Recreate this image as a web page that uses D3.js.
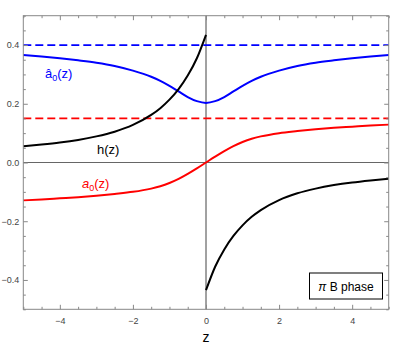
<!DOCTYPE html>
<html>
<head>
<meta charset="utf-8">
<script src="https://cdn.jsdelivr.net/npm/d3@7"></script>
<style>
  body { margin: 0; background: #fff; }
  svg text { font-family: 'Liberation Sans', Arial, sans-serif; }
</style>
</head>
<body>
<div class="canvas"></div>
<script>
// data
const zNeg = [-5, -4.5, -4, -3.5, -3, -2.5, -2, -1.5, -1.25, -1, -0.75, -0.5, -0.25, 0];
const zPos = [0, 0.25, 0.5, 0.75, 1, 1.25, 1.5, 2, 2.5, 3, 3.5, 4, 4.5, 5];
const zAll = [-5, -4.5, -4, -3.5, -3, -2.5, -2, -1.5, -1.25, -1, -0.75, -0.5, -0.25, 0,
  0.25, 0.5, 0.75, 1, 1.25, 1.5, 2, 2.5, 3, 3.5, 4, 4.5, 5];

const hLeft = [0.055, 0.061, 0.068, 0.077, 0.089, 0.105, 0.128, 0.162, 0.185, 0.214, 0.250, 0.296, 0.355, 0.435];
const hRight = [-0.435, -0.355, -0.296, -0.250, -0.214, -0.185, -0.162, -0.128, -0.105, -0.089, -0.077, -0.068, -0.061, -0.055];
const aHat = [0.366, 0.361, 0.355, 0.348, 0.340, 0.329, 0.313, 0.292, 0.278, 0.261, 0.242, 0.223, 0.209, 0.203,
  0.209, 0.223, 0.242, 0.261, 0.278, 0.292, 0.313, 0.329, 0.340, 0.348, 0.355, 0.361, 0.366];
const aZero = [-0.129, -0.126, -0.122, -0.118, -0.113, -0.107, -0.100, -0.089, -0.081, -0.070, -0.056, -0.039, -0.020, 0,
  0.020, 0.039, 0.056, 0.070, 0.081, 0.089, 0.100, 0.107, 0.113, 0.118, 0.122, 0.126, 0.129];
const aHatLimit = 0.4;
const aZeroLimit = 0.15;

const xMajor = [-4, -2, 0, 2, 4];
const yMajor = [-0.4, -0.2, 0.0, 0.2, 0.4];

const margin = { top: 15.7, right: 18.3, bottom: 39.7, left: 23.3 };
const width = 407, height = 349;
const graphWidth = width - margin.left - margin.right;
const graphHeight = height - margin.top - margin.bottom;

const svg = d3.select('.canvas').append('svg')
  .attr('width', width).attr('height', height);

const graph = svg.append('g')
  .attr('transform', `translate(${margin.left}, ${margin.top})`);

const x = d3.scaleLinear().domain([-5, 5]).range([0, graphWidth]);
const y = d3.scaleLinear().domain([-0.5, 0.5]).range([graphHeight, 0]);

// zero lines
graph.append('line')
  .attr('x1', 0).attr('x2', graphWidth)
  .attr('y1', y(0)).attr('y2', y(0))
  .attr('stroke', '#666').attr('stroke-width', 1);
graph.append('line')
  .attr('x1', x(0)).attr('x2', x(0))
  .attr('y1', 0).attr('y2', graphHeight)
  .attr('stroke', '#444').attr('stroke-width', 1);

// dashed limits
graph.append('line')
  .attr('x1', 0).attr('x2', graphWidth)
  .attr('y1', y(aHatLimit)).attr('y2', y(aHatLimit))
  .attr('stroke', '#0000ff').attr('stroke-width', 1.8)
  .attr('stroke-dasharray', '8,4');
graph.append('line')
  .attr('x1', 0).attr('x2', graphWidth)
  .attr('y1', y(aZeroLimit)).attr('y2', y(aZeroLimit))
  .attr('stroke', '#ff0000').attr('stroke-width', 1.8)
  .attr('stroke-dasharray', '8,4');

const line = d3.line()
  .x(d => x(d[0]))
  .y(d => y(d[1]))
  .curve(d3.curveMonotoneX);

const curves = [
  { data: d3.zip(zAll, aHat), color: '#0000ff' },
  { data: d3.zip(zAll, aZero), color: '#ff0000' },
  { data: d3.zip(zNeg, hLeft), color: '#000' },
  { data: d3.zip(zPos, hRight), color: '#000' }
];

graph.selectAll('path.curve')
  .data(curves)
  .enter()
  .append('path')
  .attr('class', 'curve')
  .attr('fill', 'none')
  .attr('stroke', d => d.color)
  .attr('stroke-width', 2)
  .attr('d', d => line(d.data));

// frame and ticks (inward, mirrored)
const tickColor = '#888';
const fmtY = d => d3.format('.1f')(d).replace('-', '\u2212');
const fmtX = d => String(d).replace('-', '\u2212');

const xMinor = d3.range(-5, 5.01, 0.5).filter(v => !xMajor.includes(v));
const yMinor = d3.range(-0.5, 0.501, 0.05).map(v => +v.toFixed(2)).filter(v => !yMajor.includes(v));

graph.append('g').attr('transform', `translate(0, ${graphHeight})`)
  .call(d3.axisBottom(x).tickValues(xMajor).tickSizeInner(-4.5).tickSizeOuter(0).tickPadding(8).tickFormat(fmtX));
graph.append('g').attr('transform', `translate(0, ${graphHeight})`)
  .call(d3.axisBottom(x).tickValues(xMinor).tickSizeInner(-2.5).tickSizeOuter(0).tickFormat(''));
graph.append('g')
  .call(d3.axisTop(x).tickValues(xMajor).tickSizeInner(-4.5).tickSizeOuter(0).tickFormat(''));
graph.append('g')
  .call(d3.axisTop(x).tickValues(xMinor).tickSizeInner(-2.5).tickSizeOuter(0).tickFormat(''));

graph.append('g')
  .call(d3.axisLeft(y).tickValues(yMajor).tickSizeInner(-4.5).tickSizeOuter(0).tickPadding(4).tickFormat(fmtY));
graph.append('g')
  .call(d3.axisLeft(y).tickValues(yMinor).tickSizeInner(-2.5).tickSizeOuter(0).tickFormat(''));
graph.append('g').attr('transform', `translate(${graphWidth}, 0)`)
  .call(d3.axisRight(y).tickValues(yMajor).tickSizeInner(-4.5).tickSizeOuter(0).tickFormat(''));
graph.append('g').attr('transform', `translate(${graphWidth}, 0)`)
  .call(d3.axisRight(y).tickValues(yMinor).tickSizeInner(-2.5).tickSizeOuter(0).tickFormat(''));

graph.selectAll('.domain').remove();
graph.selectAll('.tick line').attr('stroke', tickColor);
graph.selectAll('.tick text').attr('fill', '#444').style('font-size', '9px');

graph.append('rect')
  .attr('width', graphWidth).attr('height', graphHeight)
  .attr('fill', 'none').attr('stroke', tickColor).attr('stroke-width', 1);

// axis label
svg.append('text')
  .attr('x', margin.left + x(0)).attr('y', 342)
  .attr('text-anchor', 'middle')
  .style('font-size', '14px')
  .text('z');

// curve labels
const hatLabel = svg.append('text')
  .attr('x', 45).attr('y', 78)
  .attr('fill', '#0000ff').style('font-size', '13px');
hatLabel.append('tspan').text('\u00e2');
hatLabel.append('tspan').attr('dy', 3).style('font-size', '9px').text('0');
hatLabel.append('tspan').attr('dy', -3).text('(z)');

svg.append('text')
  .attr('x', 97).attr('y', 154)
  .attr('fill', '#000').style('font-size', '13px')
  .text('h(z)');

const aLabel = svg.append('text')
  .attr('x', 82).attr('y', 188)
  .attr('fill', '#ff0000').style('font-size', '13px');
aLabel.append('tspan').style('font-style', 'italic').text('a');
aLabel.append('tspan').attr('dy', 3).style('font-size', '9px').text('0');
aLabel.append('tspan').attr('dy', -3).text('(z)');

// phase box
svg.append('rect')
  .attr('x', 309.5).attr('y', 273)
  .attr('width', 73).attr('height', 26)
  .attr('fill', '#fff').attr('stroke', '#000').attr('stroke-width', 1);
const phase = svg.append('text')
  .attr('x', 346).attr('y', 290.5)
  .attr('text-anchor', 'middle').style('font-size', '12px');
phase.append('tspan').style('font-style', 'italic').text('\u03c0');
phase.append('tspan').text(' B phase');
</script>
</body>
</html>
